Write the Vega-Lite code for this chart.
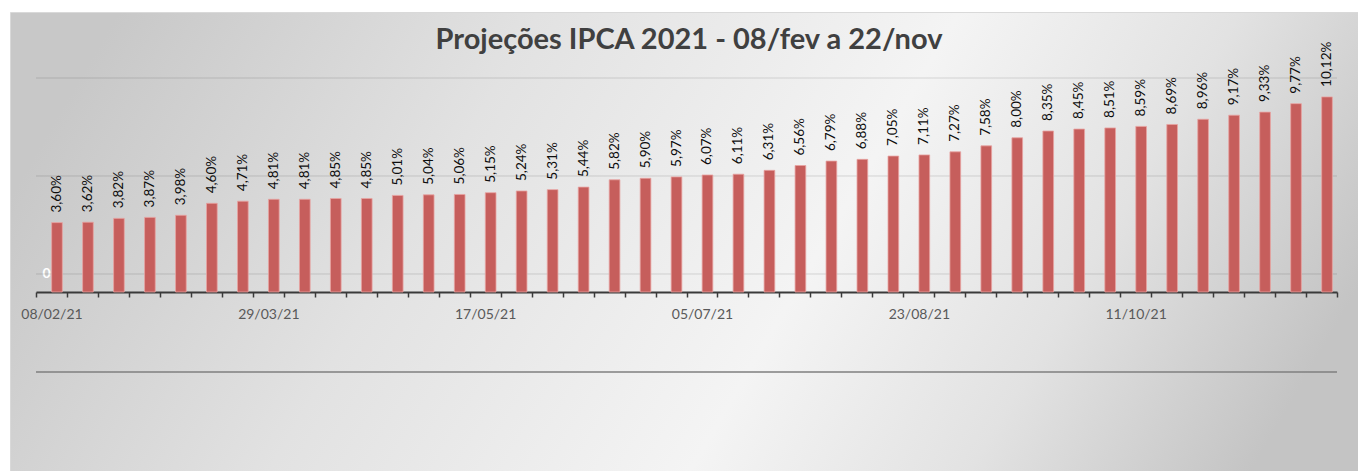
{
  "$schema": "https://vega.github.io/schema/vega-lite/v6.json",
  "width": 1348,
  "height": 459,
  "autosize": "none",
  "padding": {"left": 10, "top": 12, "right": 0, "bottom": 0},
  "background": "#ffffff",
  "title": {
    "text": "Projeções IPCA 2021 - 08/fev a 22/nov",
    "font": "Lato",
    "fontSize": 29,
    "fontWeight": "bold",
    "color": "#404040",
    "anchor": "middle",
    "frame": "group",
    "baseline": "alphabetic",
    "offset": 0,
    "dy": 66,
    "dx": 5
  },
  "config": {
    "view": {
      "stroke": "#d9d9d9",
      "strokeWidth": 1,
      "fill": {
        "gradient": "linear",
        "x1": 0, "y1": 0.4, "x2": 1, "y2": 0.6,
        "stops": [
          {"offset": 0, "color": "#c8c8c8"},
          {"offset": 0.3, "color": "#e2e2e2"},
          {"offset": 0.6, "color": "#f4f4f4"},
          {"offset": 0.8, "color": "#e2e2e2"},
          {"offset": 1, "color": "#c4c4c4"}
        ]
      }
    },
    "font": "Lato"
  },
  "data": {
    "values": [
      {"data": "08/02/21", "ipca": 3.60},
      {"data": "15/02/21", "ipca": 3.62},
      {"data": "22/02/21", "ipca": 3.82},
      {"data": "01/03/21", "ipca": 3.87},
      {"data": "08/03/21", "ipca": 3.98},
      {"data": "15/03/21", "ipca": 4.60},
      {"data": "22/03/21", "ipca": 4.71},
      {"data": "29/03/21", "ipca": 4.81},
      {"data": "05/04/21", "ipca": 4.81},
      {"data": "12/04/21", "ipca": 4.85},
      {"data": "19/04/21", "ipca": 4.85},
      {"data": "26/04/21", "ipca": 5.01},
      {"data": "03/05/21", "ipca": 5.04},
      {"data": "10/05/21", "ipca": 5.06},
      {"data": "17/05/21", "ipca": 5.15},
      {"data": "24/05/21", "ipca": 5.24},
      {"data": "31/05/21", "ipca": 5.31},
      {"data": "07/06/21", "ipca": 5.44},
      {"data": "14/06/21", "ipca": 5.82},
      {"data": "21/06/21", "ipca": 5.90},
      {"data": "28/06/21", "ipca": 5.97},
      {"data": "05/07/21", "ipca": 6.07},
      {"data": "12/07/21", "ipca": 6.11},
      {"data": "19/07/21", "ipca": 6.31},
      {"data": "26/07/21", "ipca": 6.56},
      {"data": "02/08/21", "ipca": 6.79},
      {"data": "09/08/21", "ipca": 6.88},
      {"data": "16/08/21", "ipca": 7.05},
      {"data": "23/08/21", "ipca": 7.11},
      {"data": "30/08/21", "ipca": 7.27},
      {"data": "06/09/21", "ipca": 7.58},
      {"data": "13/09/21", "ipca": 8.00},
      {"data": "20/09/21", "ipca": 8.35},
      {"data": "27/09/21", "ipca": 8.45},
      {"data": "04/10/21", "ipca": 8.51},
      {"data": "11/10/21", "ipca": 8.59},
      {"data": "18/10/21", "ipca": 8.69},
      {"data": "25/10/21", "ipca": 8.96},
      {"data": "01/11/21", "ipca": 9.17},
      {"data": "08/11/21", "ipca": 9.33},
      {"data": "15/11/21", "ipca": 9.77},
      {"data": "22/11/21", "ipca": 10.12}
    ]
  },
  "layer": [
    {
      "data": {"values": [{"g": 0.934}, {"g": 6.017}, {"g": 11.1}]},
      "mark": {"type": "rule", "color": "#000000", "opacity": 0.13, "strokeWidth": 1, "xOffset": -15.5, "x2Offset": 15.5},
      "encoding": {
        "y": {
          "field": "g",
          "type": "quantitative",
          "scale": {"domain": [0, 11.1], "range": [280, 66], "nice": false, "zero": true},
          "axis": {
            "title": null,
            "values": [0.934],
            "labelExpr": "'0'",
            "grid": false,
            "domain": false,
            "ticks": false,
            "tickSize": 0,
            "labelColor": "#ffffff",
            "labelFont": "Lato",
            "labelFontWeight": "bold",
            "labelFontSize": 14,
            "labelAlign": "left",
            "labelBaseline": "middle",
            "labelPadding": -32
          }
        },
        "x": {
          "datum": "08/02/21",
          "type": "nominal",
          "scale": {
            "domain": ["08/02/21","15/02/21","22/02/21","01/03/21","08/03/21","15/03/21","22/03/21","29/03/21","05/04/21","12/04/21","19/04/21","26/04/21","03/05/21","10/05/21","17/05/21","24/05/21","31/05/21","07/06/21","14/06/21","21/06/21","28/06/21","05/07/21","12/07/21","19/07/21","26/07/21","02/08/21","09/08/21","16/08/21","23/08/21","30/08/21","06/09/21","13/09/21","20/09/21","27/09/21","04/10/21","11/10/21","18/10/21","25/10/21","01/11/21","08/11/21","15/11/21","22/11/21"],
            "range": [26, 1327], "paddingInner": 0, "paddingOuter": 0
          },
          "axis": {
            "title": null,
            "orient": "bottom",
            "offset": -179,
            "domainColor": "#3a3a3a",
            "domainWidth": 2,
            "tickColor": "#3a3a3a",
            "tickWidth": 1.5,
            "tickSize": 5,
            "tickBand": "extent",
            "labelAngle": 0,
            "labelFont": "Lato",
            "labelFontSize": 14,
            "labelColor": "#595959",
            "labelPadding": 10,
            "labelOverlap": false,
            "labelExpr": "indexof(['08/02/21','29/03/21','17/05/21','05/07/21','23/08/21','11/10/21'], datum.label) >= 0 ? datum.label : ''"
          }
        },
        "x2": {"datum": "22/11/21"}
      }
    },
    {
      "data": {"values": [{"linha": -4.15}]},
      "mark": {"type": "rule", "color": "#7f7f7f", "strokeWidth": 1.5, "xOffset": -15.5, "x2Offset": 15.5},
      "encoding": {
        "y": {"field": "linha", "type": "quantitative"},
        "x": {"datum": "08/02/21", "type": "nominal"},
        "x2": {"datum": "22/11/21"}
      }
    },
    {
      "mark": {"type": "bar", "width": {"band": 0.345}, "xOffset": 5.5, "color": "#c65e5c", "stroke": "#e8a3a1", "strokeWidth": 0.8},
      "encoding": {
        "x": {"field": "data", "type": "nominal", "sort": null},
        "y": {"field": "ipca", "type": "quantitative"}
      }
    },
    {
      "transform": [
        {"calculate": "replace(format(datum.ipca, '.2f'), '.', ',') + '%'", "as": "rotulo"}
      ],
      "mark": {"type": "text", "angle": 270, "align": "left", "baseline": "middle", "dx": 10, "xOffset": 5.5, "font": "Lato", "fontSize": 13.5, "color": "#0d0d0d"},
      "encoding": {
        "x": {"field": "data", "type": "nominal", "sort": null},
        "y": {"field": "ipca", "type": "quantitative"},
        "text": {"field": "rotulo", "type": "nominal"}
      }
    }
  ]
}
